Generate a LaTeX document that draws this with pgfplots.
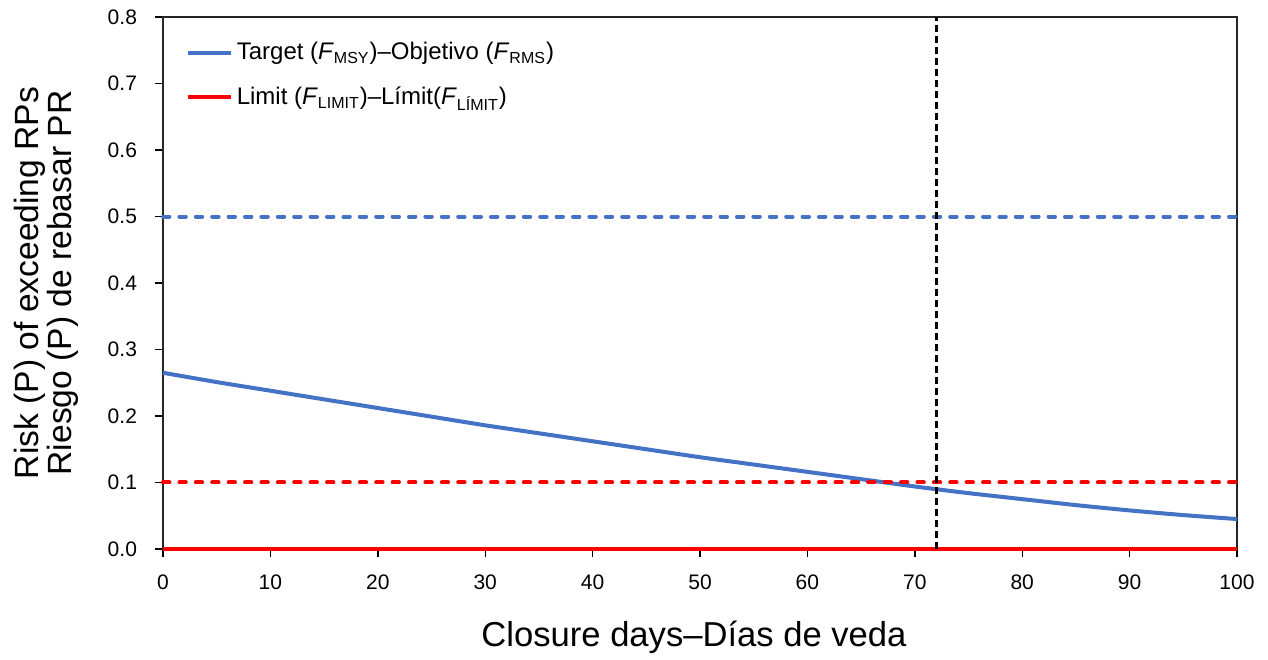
\documentclass[border=0pt]{standalone}
\usepackage{pgfplots}
\pgfplotsset{compat=1.18}
\usepackage{fontspec}
\setmainfont{Liberation Sans}
\definecolor{cblue}{RGB}{68,114,196}
\definecolor{cred}{RGB}{255,0,0}
\begin{document}
\begin{tikzpicture}
\begin{axis}[
  scale only axis,
  width=537pt, height=266pt,
  xmin=0, xmax=100, ymin=0, ymax=0.8,
  xtick={0,10,...,100},
  ytick={0,0.1,...,0.8},
  xtick pos=left, ytick pos=left,
  tick align=outside,
  major tick length=4pt,
  every tick/.style={draw=black, line width=0.7pt},
  axis line style={line width=0.8pt, black!85},
  /pgf/number format/assume math mode=true,
  yticklabel style={/pgf/number format/fixed, /pgf/number format/fixed zerofill, /pgf/number format/precision=1, font=\fontsize{10.5}{12}\selectfont, xshift=-5.5pt},
  xticklabel style={font=\fontsize{10.5}{12}\selectfont, yshift=-5.5pt},
  clip=false,
  xlabel={Closure days–Días de veda},
  xlabel style={at={(axis description cs:0.5,0)}, anchor=center, yshift=-44pt, xshift=-3pt, font=\fontsize{17.3}{17.3}\selectfont},
  ylabel={Risk (P) of exceeding RPs\\Riesgo (P) de rebasar PR},
  ylabel style={at={(axis description cs:-0.1085,0.5)}, anchor=center, align=center, font=\fontsize{16.8}{15.5}\selectfont},
  legend style={at={(rel axis cs:0,1)}, anchor=north west, xshift=8pt, yshift=-8.5pt, draw=none, fill=none, font=\fontsize{12}{13}\selectfont, row sep=8pt},
  legend cell align=left,
  legend image code/.code={\draw[#1] (0pt,0pt) -- (21.5pt,0pt);},
]
\addplot[cblue, line width=2pt, smooth, tension=0.4] coordinates {
(0,0.265) (5,0.251) (10,0.238) (15,0.225) (20,0.212) (25,0.199) (30,0.186) (35,0.174) (40,0.162) (45,0.150) (50,0.138) (55,0.127) (60,0.116) (65,0.105) (70,0.094) (75,0.084) (80,0.075) (85,0.066) (90,0.058) (95,0.051) (100,0.045)};
\addlegendentry{Target (\textit{F}\textsubscript{MSY})–Objetivo (\textit{F}\textsubscript{RMS})}
\addplot[cred, line width=2.2pt] coordinates {(0,0) (100,0)};
\addlegendentry{Limit (\textit{F}\textsubscript{LIMIT})–Límit(\textit{F}\textsubscript{LÍMIT})}
\addplot[cblue, line width=2pt, line cap=round, dash pattern=on 3.2pt off 5pt, forget plot] coordinates {(0,0.5) (100,0.5)};
\addplot[cred, line width=2pt, line cap=round, dash pattern=on 3.2pt off 5pt, forget plot] coordinates {(0,0.1) (100,0.1)};
\addplot[black, line width=1.4pt, dash pattern=on 3.3pt off 2.2pt, forget plot] coordinates {(72,0) (72,0.8)};
\end{axis}
\path (-81.5pt,-54pt) rectangle (552.5pt,274.5pt);
\end{tikzpicture}
\end{document}
